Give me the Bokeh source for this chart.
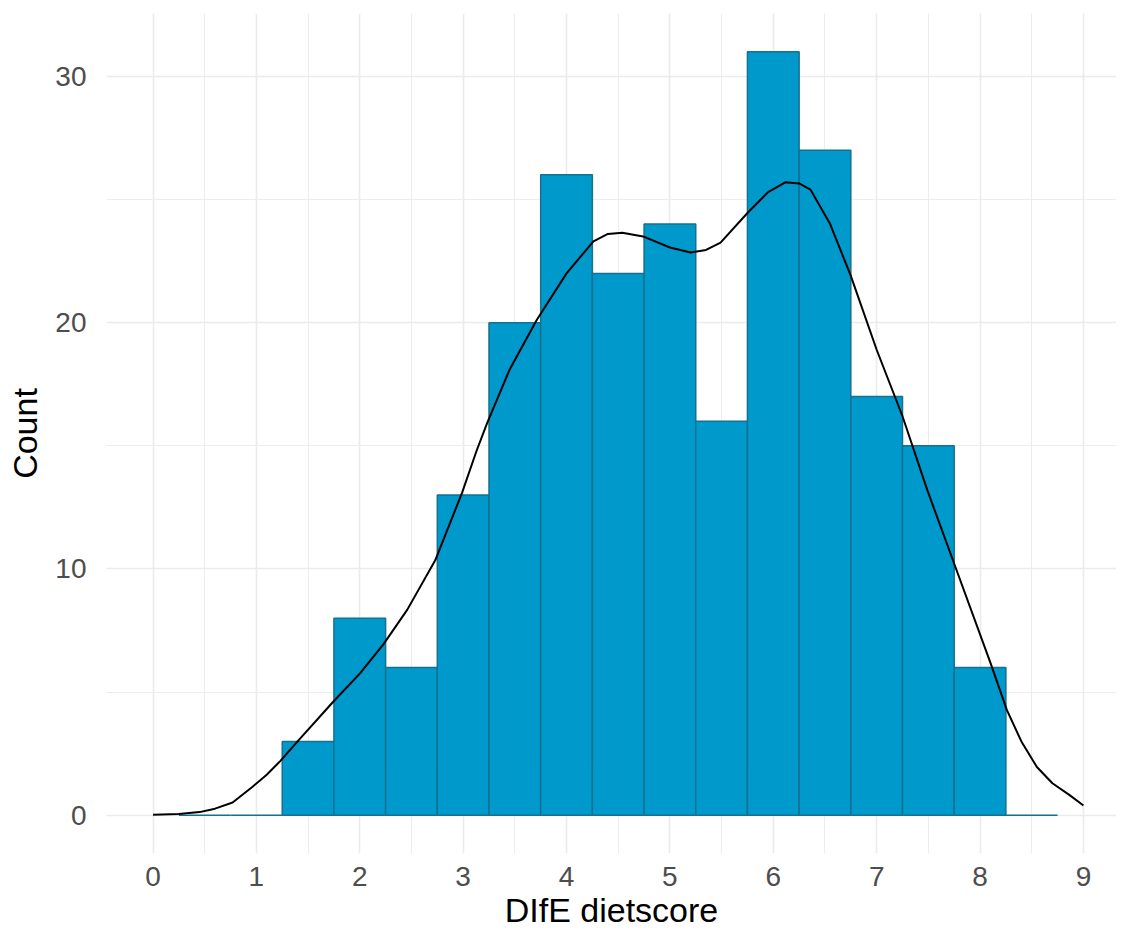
from bokeh.plotting import figure
from bokeh.models import FixedTicker, Range1d
from bokeh.embed import file_html
from bokeh.resources import INLINE

# Histogram bins (binwidth 0.5)
bin_left = [0.25, 0.75, 1.25, 1.75, 2.25, 2.75, 3.25, 3.75, 4.25, 4.75, 5.25, 5.75, 6.25, 6.75, 7.25, 7.75, 8.25]
bin_right = [0.75, 1.25, 1.75, 2.25, 2.75, 3.25, 3.75, 4.25, 4.75, 5.25, 5.75, 6.25, 6.75, 7.25, 7.75, 8.25, 8.75]
counts = [0, 0, 3, 8, 6, 13, 20, 26, 22, 24, 16, 31, 27, 17, 15, 6, 0]

# Density curve (scaled to counts)
dens_x = [0, 0.25, 0.45, 0.6, 0.77, 0.96, 1.1, 1.23, 1.42, 1.73, 2.0, 2.23, 2.46, 2.73, 2.99, 3.13, 3.23, 3.45,
          3.71, 4.0, 4.26, 4.4, 4.54, 4.74, 5.0, 5.2, 5.35, 5.49, 5.75, 5.95, 6.12, 6.25, 6.36, 6.55, 6.75, 7.0, 7.25,
          7.49, 7.76, 8.1, 8.26, 8.4, 8.55, 8.7, 8.87, 9.0]
dens_y = [0.02, 0.05, 0.13, 0.27, 0.52, 1.15, 1.65, 2.2, 3.1, 4.55, 5.75, 6.95, 8.35, 10.35, 13.1, 14.8, 15.9, 18.1,
          20.1, 22.0, 23.3, 23.6, 23.65, 23.5, 23.05, 22.85, 22.95, 23.25, 24.45, 25.3, 25.7, 25.65, 25.4, 24.0, 21.9, 18.9, 16.2,
          13.2, 10.1, 6.2, 4.27, 3.0, 1.96, 1.3, 0.81, 0.4]

x_ticks = [0, 1, 2, 3, 4, 5, 6, 7, 8, 9]
x_minor = [0.5, 1.5, 2.5, 3.5, 4.5, 5.5, 6.5, 7.5, 8.5]
y_ticks = [0, 10, 20, 30]
y_minor = [5, 15, 25]

p = figure(width=1116, height=935, output_backend="svg", toolbar_location=None,
           x_range=Range1d(-0.45, 9.32), y_range=Range1d(-1.55, 32.55),
           min_border_left=106, min_border_right=0, min_border_top=13, min_border_bottom=82)
p.outline_line_color = None
p.background_fill_color = "white"

p.quad(left=bin_left, right=bin_right, top=counts, bottom=0,
       fill_color="#0099CC", line_color="#16708F", line_width=1.5)
p.line(dens_x, dens_y, line_color="black", line_width=2)

for ax in (p.xaxis[0], p.yaxis[0]):
    ax.axis_line_color = None
    ax.major_tick_line_color = None
    ax.minor_tick_line_color = None
    ax.major_label_text_color = "#4D4D4D"
    ax.major_label_text_font = "Liberation Sans"
    ax.major_label_text_font_size = "28px"
    ax.axis_label_text_font = "Liberation Sans"
    ax.axis_label_text_font_size = "34px"
    ax.axis_label_text_font_style = "normal"
    ax.axis_label_text_color = "black"

p.xaxis.ticker = FixedTicker(ticks=x_ticks, minor_ticks=x_minor)
p.yaxis.ticker = FixedTicker(ticks=y_ticks, minor_ticks=y_minor)
p.xaxis.axis_label = "DIfE dietscore"
p.yaxis.axis_label = "Count"
p.xaxis.major_label_standoff = 7
p.yaxis.major_label_standoff = 14
p.xaxis.axis_label_standoff = 2
p.yaxis.axis_label_standoff = 8

p.xgrid.grid_line_color = "#EBEBEB"
p.ygrid.grid_line_color = "#EBEBEB"
p.xgrid.grid_line_width = 1.6
p.ygrid.grid_line_width = 1.6
p.xgrid.minor_grid_line_color = "#EBEBEB"
p.ygrid.minor_grid_line_color = "#EBEBEB"
p.xgrid.minor_grid_line_width = 0.9
p.ygrid.minor_grid_line_width = 0.9

open("out.html", "w").write(file_html(p, INLINE))
